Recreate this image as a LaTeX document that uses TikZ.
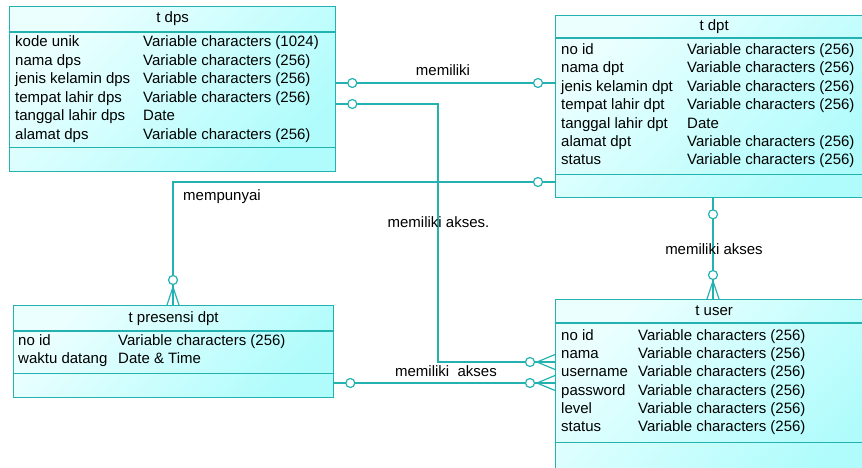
\documentclass[tikz,border=0pt]{standalone}
\usepackage{fontspec}
\setmainfont{Liberation Sans}
\usetikzlibrary{calc}

\definecolor{erline}{RGB}{36,178,176}
\definecolor{erlight}{RGB}{236,255,255}
\definecolor{erdark}{RGB}{176,252,252}

\begin{document}
\begin{tikzpicture}[
  x=1pt, y=-1pt,
  tbl/.style={rectangle, anchor=north west, draw=erline, line width=1.3pt,
              top color=erlight, bottom color=erdark, shading angle=45,
              inner sep=0pt},
  sep/.style={draw=erline, line width=1.3pt},
  ttl/.style={font=\fontsize{15}{18}\selectfont, inner sep=0pt,
              text height=10pt, text depth=2pt},
  fld/.style={ttl, anchor=west},
  rel/.style={draw=erline, line width=1.2pt},
  ring/.style={circle, draw=erline, line width=1.2pt, fill=white,
               minimum size=9pt, inner sep=0pt},
  lbl/.style={ttl}
]
\useasboundingbox (0,0) rectangle (862,468);
\clip (0,0) rectangle (862,468);

%% Entity boxes
\node[tbl, minimum width=326pt, minimum height=165pt] (tdps)  at (9,6)    {};
\node[tbl, minimum width=317pt, minimum height=182pt] (tdpt)  at (555,15)  {};
\node[tbl, minimum width=320pt, minimum height=92pt]  (tpres) at (13,305)  {};
\node[tbl, minimum width=317pt, minimum height=180pt] (tuser) at (555,299) {};

%% Compartment lines
\draw[sep] ([yshift=-26pt]tdps.north west)  -- ([yshift=-26pt]tdps.north east);
\draw[sep] ([yshift=25pt]tdps.south west)   -- ([yshift=25pt]tdps.south east);
\draw[sep] ([yshift=-23pt]tdpt.north west)  -- ([yshift=-23pt]tdpt.north east);
\draw[sep] ([yshift=24pt]tdpt.south west)   -- ([yshift=24pt]tdpt.south east);
\draw[sep] ([yshift=-26pt]tpres.north west) -- ([yshift=-26pt]tpres.north east);
\draw[sep] ([yshift=25pt]tpres.south west)  -- ([yshift=25pt]tpres.south east);
\draw[sep] ([yshift=-24pt]tuser.north west) -- ([yshift=-24pt]tuser.north east);
\draw[sep] ([yshift=38pt]tuser.south west)  -- ([yshift=38pt]tuser.south east);

%% Titles
\node[ttl] (dps-title)  at ([yshift=-13pt]tdps.north)  {t dps};
\node[ttl] (dpt-title)  at ([yshift=-12pt]tdpt.north)  {t dpt};
\node[ttl] (pres-title) at ([yshift=-13pt]tpres.north) {t presensi dpt};
\node[ttl] (user-title) at ([yshift=-12pt]tuser.north) {t user};

%% Attributes
\foreach \n/\t [count=\i] in {kode unik/Variable characters (1024),
    nama dps/Variable characters (256), jenis kelamin dps/Variable characters (256),
    tempat lahir dps/Variable characters (256), tanggal lahir dps/Date,
    alamat dps/Variable characters (256)} {
  \node[fld] (dps-n\i) at (15,{42.5+18.6*(\i-1)})  {\n};
  \node[fld] (dps-t\i) at (143,{42.5+18.6*(\i-1)}) {\t};
}
\foreach \n/\t [count=\i] in {no id/Variable characters (256),
    nama dpt/Variable characters (256), jenis kelamin dpt/Variable characters (256),
    tempat lahir dpt/Variable characters (256), tanggal lahir dpt/Date,
    alamat dpt/Variable characters (256), status/Variable characters (256)} {
  \node[fld] (dpt-n\i) at (561,{50.5+18.4*(\i-1)}) {\n};
  \node[fld] (dpt-t\i) at (687,{50.5+18.4*(\i-1)}) {\t};
}
\foreach \n/\t [count=\i] in {no id/Variable characters (256),
    waktu datang/Date \& Time} {
  \node[fld] (pres-n\i) at (18,{341.5+18.4*(\i-1)})  {\n};
  \node[fld] (pres-t\i) at (118,{341.5+18.4*(\i-1)}) {\t};
}
\foreach \n/\t [count=\i] in {no id/Variable characters (256),
    nama/Variable characters (256), username/Variable characters (256),
    password/Variable characters (256), level/Variable characters (256),
    status/Variable characters (256)} {
  \node[fld] (user-n\i) at (561,{336.5+18.2*(\i-1)}) {\n};
  \node[fld] (user-t\i) at (638,{336.5+18.2*(\i-1)}) {\t};
}

%% Relationships
\coordinate (akses-bend) at (438,104);
\draw[rel] ([yshift=-77pt]tdps.north east) -- ([yshift=-68pt]tdpt.north west);
\draw[rel] ([yshift=-98pt]tdps.north east) -- (akses-bend)
  |- ([yshift=-63pt]tuser.north west);
\draw[rel] ([yshift=-167pt]tdpt.north west) -| ([xshift=160pt]tpres.north west);
\draw[rel] ([xshift=158pt]tdpt.south west) -- ([xshift=158pt]tuser.north west);
\draw[rel] ([yshift=-78pt]tpres.north east) -- ([yshift=-84pt]tuser.north west);

%% Crow's feet (many side)
\draw[rel] ([xshift=160pt,yshift=18pt]tpres.north west) coordinate (foot-pres)
  -- ++(-6,18) (foot-pres) -- ++(6,18);
\draw[rel] ([xshift=158pt,yshift=18pt]tuser.north west) coordinate (foot-user)
  -- ++(-6,18) (foot-user) -- ++(6,18);
\draw[rel] ([xshift=-18pt,yshift=-63pt]tuser.north west) coordinate (foot-dps)
  -- ++(18,-7.5) (foot-dps) -- ++(18,7.5);
\draw[rel] ([xshift=-18pt,yshift=-84pt]tuser.north west) coordinate (foot-prs)
  -- ++(18,-7.5) (foot-prs) -- ++(18,7.5);

%% Optional rings
\node[ring] (ring-a1) at ([xshift=16pt,yshift=-77pt]tdps.north east)   {};
\node[ring] (ring-a2) at ([xshift=-17pt,yshift=-68pt]tdpt.north west)  {};
\node[ring] (ring-b1) at ([xshift=16pt,yshift=-98pt]tdps.north east)   {};
\node[ring] (ring-b2) at ([xshift=-25pt,yshift=-63pt]tuser.north west) {};
\node[ring] (ring-c1) at ([xshift=-17pt,yshift=-167pt]tdpt.north west) {};
\node[ring] (ring-c2) at ([xshift=160pt,yshift=25pt]tpres.north west) {};
\node[ring] (ring-d1) at ([xshift=158pt,yshift=-16pt]tdpt.south west)  {};
\node[ring] (ring-d2) at ([xshift=158pt,yshift=24pt]tuser.north west)  {};
\node[ring] (ring-e1) at ([xshift=16pt,yshift=-78pt]tpres.north east)  {};
\node[ring] (ring-e2) at ([xshift=-25pt,yshift=-84pt]tuser.north west) {};

%% Relationship names
\node[lbl] (lbl-memiliki) at (443,72) {memiliki};
\node[lbl] (lbl-akses-dps) at (438.5,223) {memiliki akses.};
\node[lbl, anchor=west] (lbl-mempunyai) at (183,196) {mempunyai};
\node[lbl] (lbl-akses-dpt) at (714,250) {memiliki akses};
\node[lbl] (lbl-akses-pres) at (446,372) {memiliki\ \ akses};

\end{tikzpicture}
\end{document}
